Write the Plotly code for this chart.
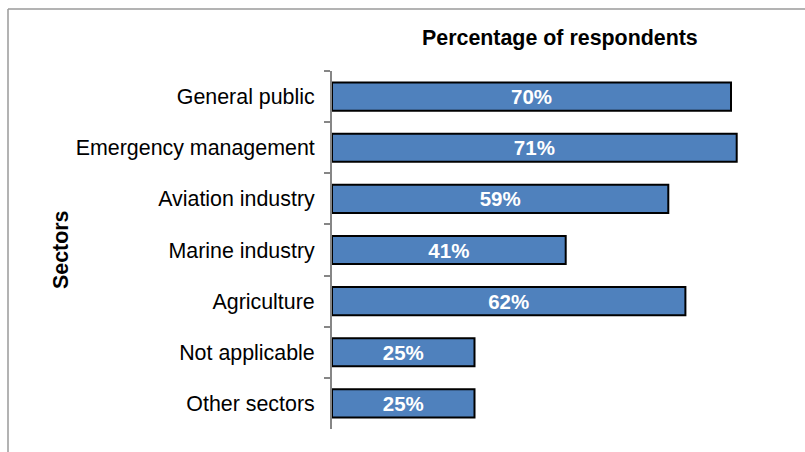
import plotly.graph_objects as go

# Survey results: share of respondents by sector
sectors = ["General public", "Emergency management", "Aviation industry",
           "Marine industry", "Agriculture", "Not applicable", "Other sectors"]
percent = [70, 71, 59, 41, 62, 25, 25]
labels = [f"{v}%" for v in percent]

W, H = 805, 452
ML, MR, MT, MB = 332, 17, 71, 23
pw, ph = W - ML - MR, H - MT - MB


def px_x(x):
    return (x - ML) / pw


def px_y(y):
    return 1 - (y - MT) / ph


fig = go.Figure(go.Bar(
    x=percent, y=sectors, orientation="h",
    text=labels, textposition="inside", insidetextanchor="middle",
    textfont=dict(family="Liberation Sans, Arial", size=20.5, color="white", weight="bold"),
    constraintext="none",
    marker=dict(color="#4F81BD", line=dict(color="black", width=2)),
    width=0.55,
    hoverinfo="skip",
))

fig.update_layout(
    width=W, height=H,
    margin=dict(l=ML, r=MR, t=MT, b=MB),
    paper_bgcolor="white", plot_bgcolor="white",
    showlegend=False,
    font=dict(family="Liberation Sans, Arial", size=21.4, color="black"),
    xaxis=dict(range=[0, 80], visible=False, showgrid=False, zeroline=False),
    yaxis=dict(
        categoryorder="array", categoryarray=sectors, autorange="reversed",
        showline=True, linecolor="#868686", linewidth=2,
        ticks="outside", ticklen=6, tickwidth=2, tickcolor="#868686",
        tickson="boundaries", ticklabelstandoff=11,
        showgrid=False, zeroline=False,
    ),
    annotations=[
        dict(text="<b>Percentage of respondents</b>", xref="paper", yref="paper",
             x=px_x(560), y=px_y(38), xanchor="center", yanchor="middle",
             showarrow=False, font=dict(size=21.4)),
        dict(text="<b>Sectors</b>", xref="paper", yref="paper",
             x=px_x(61), y=px_y(250), xanchor="center", yanchor="middle",
             textangle=-90, showarrow=False, font=dict(size=21.4)),
    ],
    shapes=[
        dict(type="line", xref="paper", yref="paper",
             x0=px_x(8), x1=px_x(820), y0=px_y(9), y1=px_y(9),
             line=dict(color="#9a9a9a", width=1.5)),
        dict(type="line", xref="paper", yref="paper",
             x0=px_x(8), x1=px_x(8), y0=px_y(9), y1=px_y(470),
             line=dict(color="#9a9a9a", width=1.5)),
    ],
)

fig.write_html("out.html")
